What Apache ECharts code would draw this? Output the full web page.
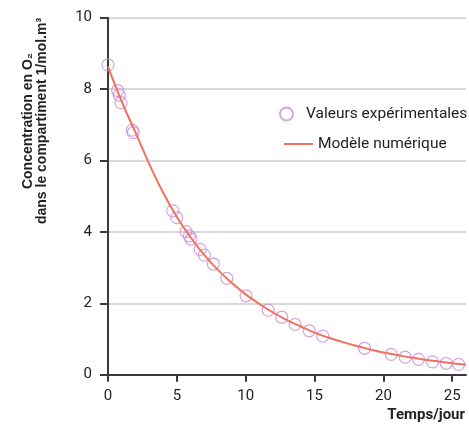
<!DOCTYPE html>
<html>
<head>
<meta charset="utf-8">
<script src="https://cdn.jsdelivr.net/npm/echarts@6/dist/echarts.min.js"></script>
<style>
  html, body { margin: 0; padding: 0; background: #fff; }
  #chart { width: 469px; height: 428px; }
</style>
</head>
<body>
<div id="chart"></div>
<script>
// Measured points (jours, concentration)
var mesuresX = [0, 0.70, 0.82, 0.94, 1.77, 1.84, 4.70, 4.99, 5.67, 5.91, 6.03, 6.69, 7.00, 7.65,
                8.63, 10.03, 11.63, 12.62, 13.59, 14.61, 15.60, 18.63, 20.57, 21.58, 22.55, 23.57, 24.56, 25.46];
var mesuresY = [8.68, 7.96, 7.83, 7.62, 6.85, 6.78, 4.59, 4.40, 4.01, 3.89, 3.80, 3.51, 3.35, 3.10,
                2.70, 2.21, 1.81, 1.61, 1.41, 1.23, 1.08, 0.74, 0.57, 0.49, 0.43, 0.36, 0.32, 0.29];

// Model curve
var modeleX = [0, 1, 2, 3, 4, 5, 6, 7, 8, 9, 10, 11, 12, 13, 14, 15, 16, 17, 18, 19, 20, 21, 22, 23, 24, 25, 26];
var modeleY = [8.63, 7.65, 6.78, 5.90, 5.10, 4.42, 3.85, 3.35, 2.93, 2.57, 2.25, 1.98, 1.74, 1.53, 1.35,
               1.18, 1.04, 0.92, 0.81, 0.71, 0.62, 0.55, 0.48, 0.42, 0.37, 0.32, 0.28];

var xTicks = [0, 5, 10, 15, 20, 25];

var chart = echarts.init(document.getElementById('chart'));

function pairs(xs, ys) {
    var res = [];
    for (var i = 0; i < xs.length; i++) res.push([xs[i], ys[i]]);
    return res;
}

var axisCol = '#3a3a3a';
var txtCol = '#222';
var font = 'Roboto';

var option = {
    animation: false,
    textStyle: { fontFamily: font },
    grid: { left: 108, right: 3, top: 17.7, bottom: 53.3 },
    legend: [{
        left: 274, top: 101,
        itemWidth: 13, itemHeight: 13,
        textStyle: { fontSize: 15.5, color: txtCol, fontFamily: font, padding: [0, 0, 0, 8] },
        data: [{ name: 'Valeurs expérimentales', icon: 'circle' }]
    }, {
        left: 279, top: 131,
        itemWidth: 29, itemHeight: 2,
        textStyle: { fontSize: 15.5, color: txtCol, fontFamily: font },
        data: [{ name: 'Modèle numérique', icon: 'rect' }]
    }],
    xAxis: {
        type: 'value', min: 0, max: 26,
        axisLine: { lineStyle: { color: axisCol, width: 2 } },
        axisTick: { customValues: xTicks, length: 7, lineStyle: { color: axisCol, width: 2 } },
        axisLabel: { customValues: xTicks, margin: 14, fontSize: 15, color: txtCol },
        splitLine: { show: false }
    },
    yAxis: {
        type: 'value', min: 0, max: 10, interval: 2,
        axisLine: { show: true, lineStyle: { color: axisCol, width: 2 } },
        axisTick: { show: true, length: 8, lineStyle: { color: axisCol, width: 2 } },
        axisLabel: { margin: 16, fontSize: 15, color: txtCol },
        splitLine: { lineStyle: { color: '#cccccc', width: 1.5 } }
    },
    graphic: [{
        type: 'text',
        x: 35, y: 121,
        rotation: Math.PI / 2,
        style: {
            text: 'Concentration en O₂\ndans le compartiment 1/mol.m³',
            font: 'bold 14px "Liberation Sans"',
            fill: txtCol,
            align: 'center',
            verticalAlign: 'middle',
            lineHeight: 14
        }
    }, {
        type: 'text',
        right: 4, top: 408,
        style: {
            text: 'Temps/jour',
            font: 'bold 15px Roboto',
            fill: txtCol
        }
    }],
    series: [{
        name: 'Valeurs expérimentales',
        type: 'scatter',
        symbol: 'circle',
        symbolSize: 12,
        itemStyle: { color: 'rgba(255,255,255,0)', borderColor: '#c98fd8', borderWidth: 1.2 },
        data: pairs(mesuresX, mesuresY)
    }, {
        name: 'Modèle numérique',
        type: 'line',
        smooth: true,
        showSymbol: false,
        symbol: 'none',
        lineStyle: { color: '#f2705e', width: 2 },
        itemStyle: { color: '#f2705e' },
        data: pairs(modeleX, modeleY)
    }]
};

chart.setOption(option);
</script>
</body>
</html>
